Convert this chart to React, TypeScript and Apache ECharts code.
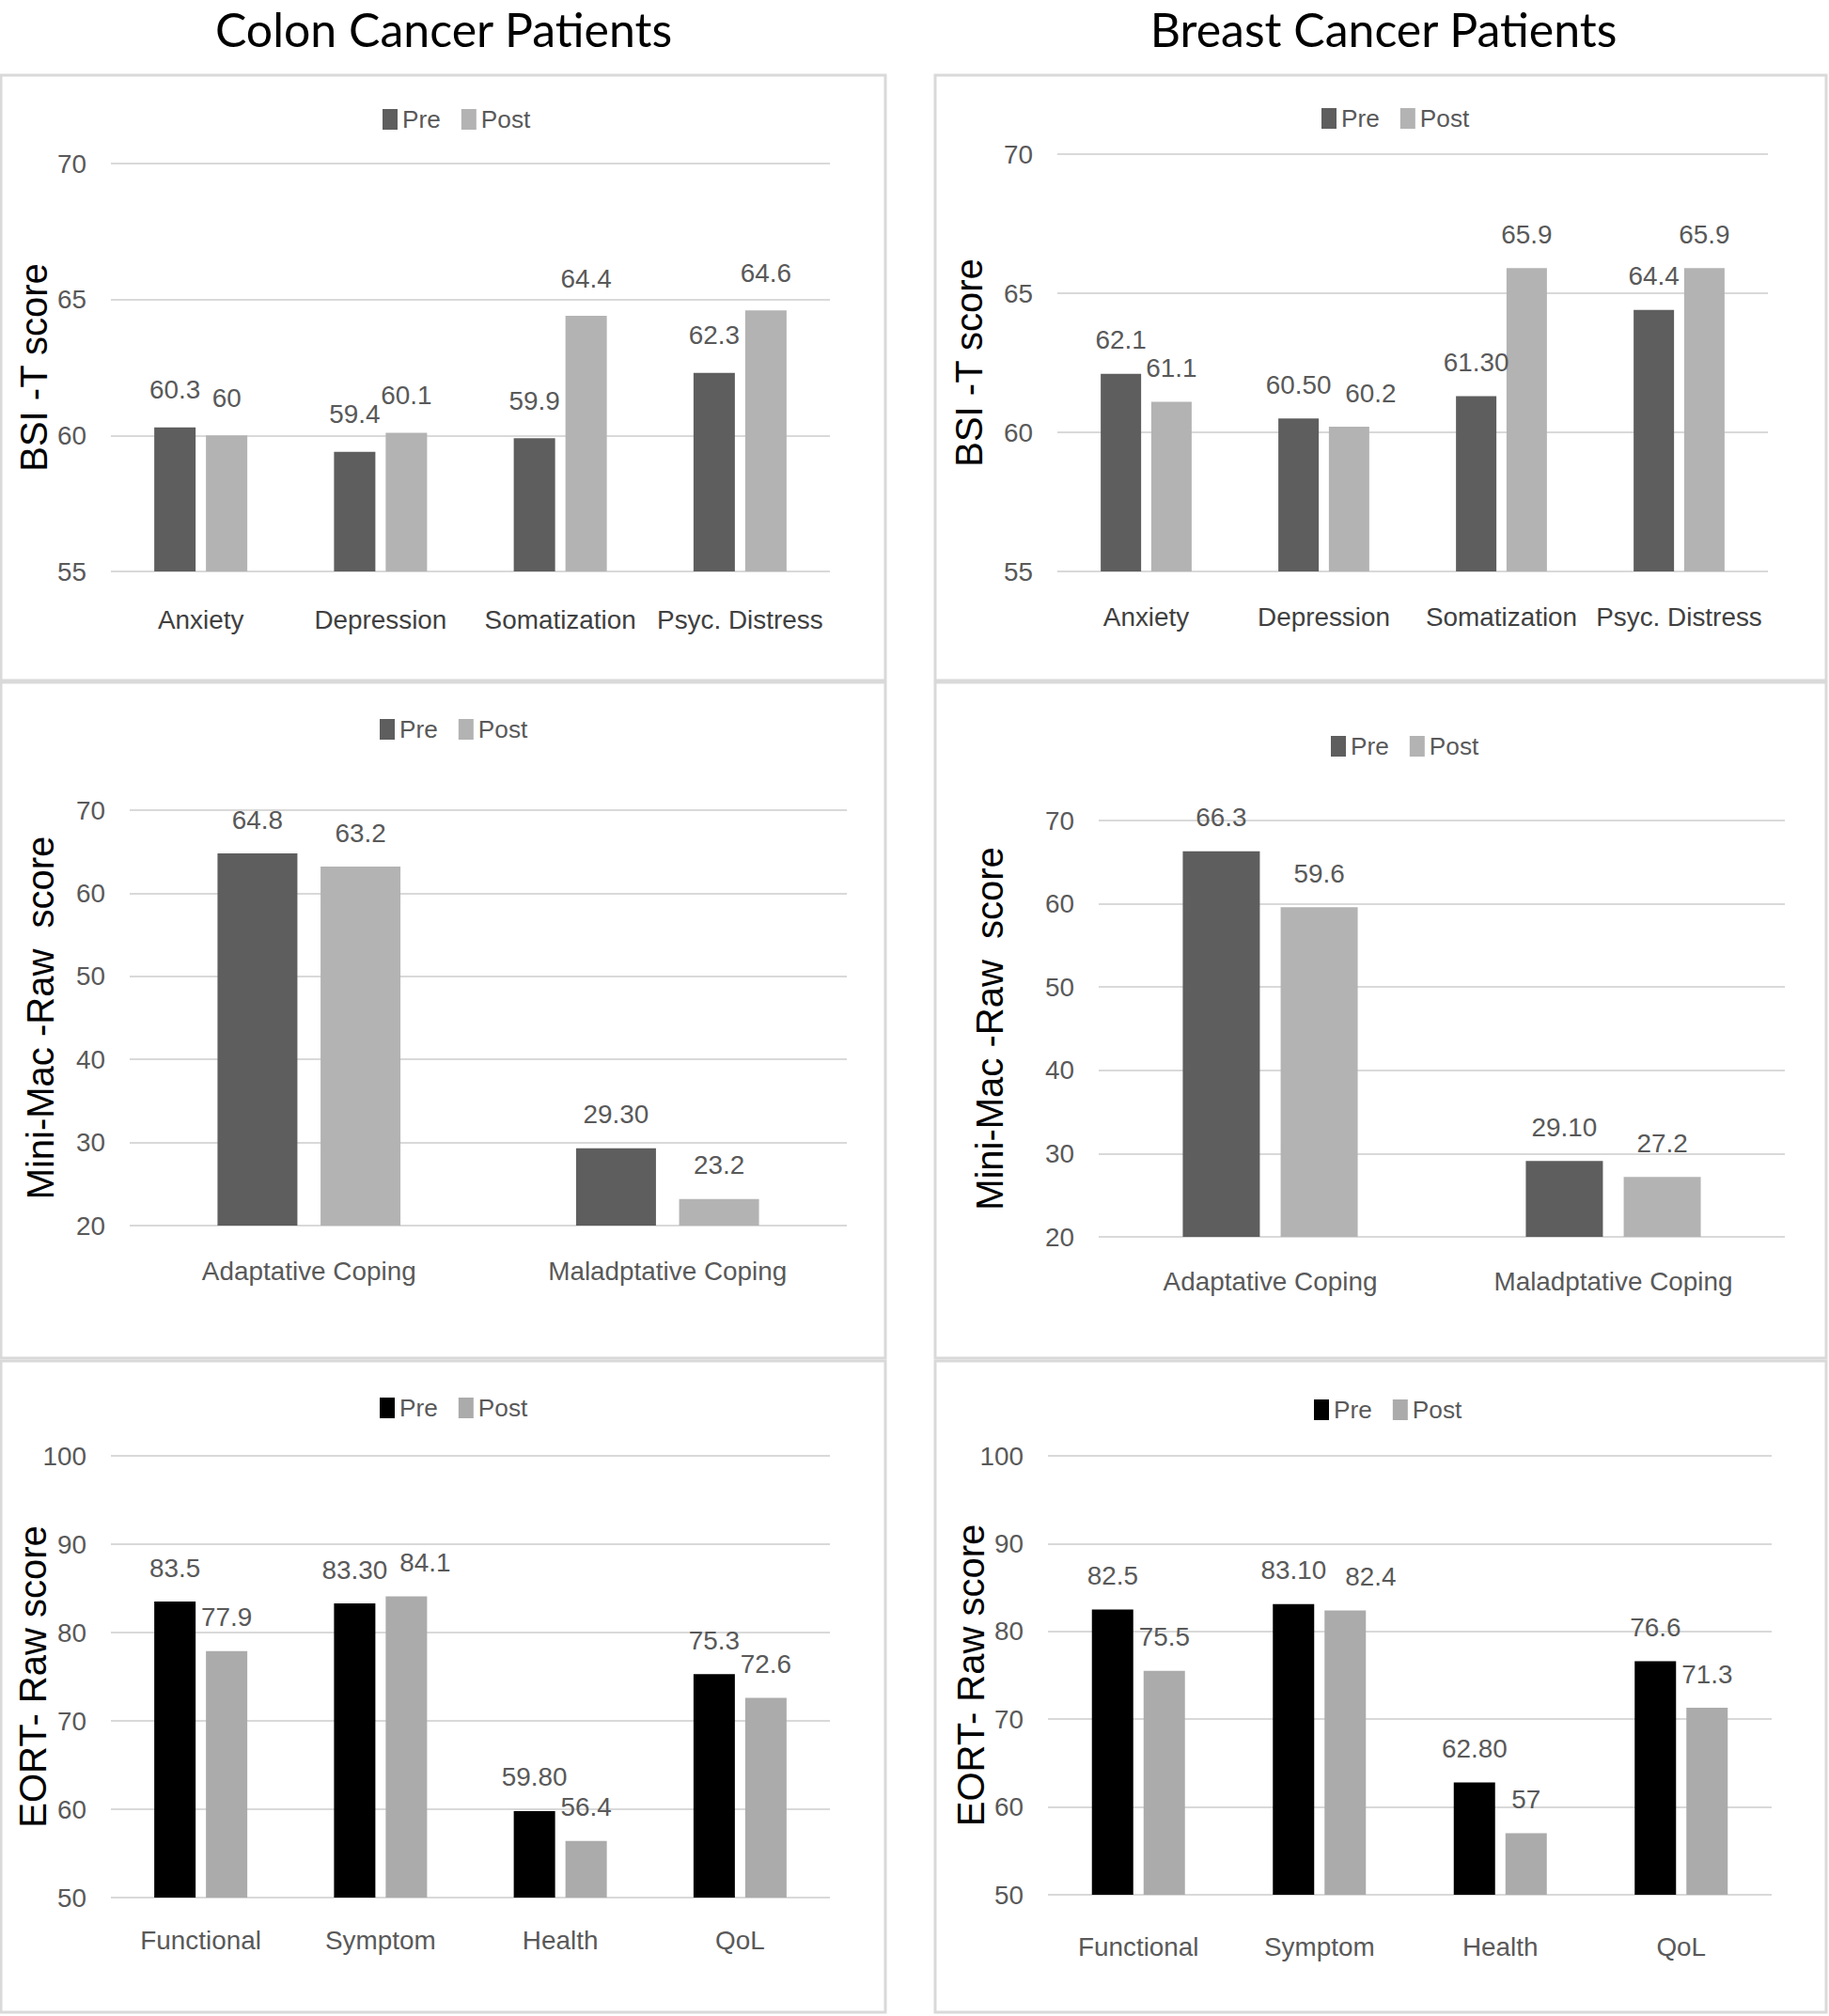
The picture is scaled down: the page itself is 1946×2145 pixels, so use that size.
import React, { useEffect, useRef } from 'react';
import * as echarts from 'echarts';

// ---------------- DATA ----------------
const bsiCategories = ['Anxiety', 'Depression', 'Somatization', 'Psyc. Distress'];
const colonBsiPre = [60.3, 59.4, 59.9, 62.3];
const colonBsiPost = [60, 60.1, 64.4, 64.6];
const colonBsiPreLabels = ['60.3', '59.4', '59.9', '62.3'];
const colonBsiPostLabels = ['60', '60.1', '64.4', '64.6'];
const breastBsiPre = [62.1, 60.5, 61.3, 64.4];
const breastBsiPost = [61.1, 60.2, 65.9, 65.9];
const breastBsiPreLabels = ['62.1', '60.50', '61.30', '64.4'];
const breastBsiPostLabels = ['61.1', '60.2', '65.9', '65.9'];

const copingCategories = ['Adaptative Coping', 'Maladptative Coping'];
const colonMacPre = [64.8, 29.3];
const colonMacPost = [63.2, 23.2];
const colonMacPreLabels = ['64.8', '29.30'];
const colonMacPostLabels = ['63.2', '23.2'];
const breastMacPre = [66.3, 29.1];
const breastMacPost = [59.6, 27.2];
const breastMacPreLabels = ['66.3', '29.10'];
const breastMacPostLabels = ['59.6', '27.2'];

const qolCategories = ['Functional', 'Symptom', 'Health', 'QoL'];
const colonQolPre = [83.5, 83.3, 59.8, 75.3];
const colonQolPost = [77.9, 84.1, 56.4, 72.6];
const colonQolPreLabels = ['83.5', '83.30', '59.80', '75.3'];
const colonQolPostLabels = ['77.9', '84.1', '56.4', '72.6'];
const breastQolPre = [82.5, 83.1, 62.8, 76.6];
const breastQolPost = [75.5, 82.4, 57, 71.3];
const breastQolPreLabels = ['82.5', '83.10', '62.80', '76.6'];
const breastQolPostLabels = ['75.5', '82.4', '57', '71.3'];

const bsiAxis = { min: 55, max: 70, interval: 5 };
const macAxis = { min: 20, max: 70, interval: 10 };
const qolAxis = { min: 50, max: 100, interval: 10 };

const columnTitles = ['Colon Cancer Patients', 'Breast Cancer Patients'];
const seriesNames = ['Pre', 'Post'];

function hasFont(name: string): boolean {
  try {
    const ctx = document.createElement('canvas').getContext('2d');
    if (!ctx) return false;
    const s = 'abcdefghijklmnopqrstuvwxyz0123456789';
    ctx.font = '40px monospace';
    const a = ctx.measureText(s).width;
    ctx.font = `40px '${name}', monospace`;
    const b = ctx.measureText(s).width;
    return Math.abs(a - b) > 0.5;
  } catch (e) {
    return false;
  }
}

export default function App() {
  const ref = useRef<HTMLDivElement>(null);
  useEffect(() => {
    document.body.style.margin = '0';
    if (!ref.current) return;
    const narrow = hasFont('Liberation Sans Narrow');
    const ff = narrow ? "'Liberation Sans Narrow', 'Liberation Sans', sans-serif" : "'Liberation Sans', sans-serif";
    const k = narrow ? 1 : 0.82;

    // label horizontal shifts (px) for the few labels moved aside in the original
    const panels = [
      {
        grid: { left: 118, top: 174, width: 765, height: 434 }, cats: bsiCategories, axis: bsiAxis,
        pre: colonBsiPre, post: colonBsiPost, preL: colonBsiPreLabels, postL: colonBsiPostLabels,
        name: 'BSI -T score', nameGap: 62, barWidth: 44, barGap: '25%', preColor: '#5e5e5e', postColor: '#b3b3b3',
        legend: { left: 407, cy: 127 }, catColor: '#404040', catMargin: 38, labelDist: 26, postShift: [0, 0, 0, 0],
      },
      {
        grid: { left: 1125, top: 164, width: 756, height: 444 }, cats: bsiCategories, axis: bsiAxis,
        pre: breastBsiPre, post: breastBsiPost, preL: breastBsiPreLabels, postL: breastBsiPostLabels,
        name: 'BSI -T score', nameGap: 74, barWidth: 43, barGap: '25%', preColor: '#5e5e5e', postColor: '#b3b3b3',
        legend: { left: 1406, cy: 126 }, catColor: '#404040', catMargin: 35, labelDist: 22, postShift: [0, 23, 0, 0],
      },
      {
        grid: { left: 138, top: 862, width: 763, height: 442 }, cats: copingCategories, axis: macAxis,
        pre: colonMacPre, post: colonMacPost, preL: colonMacPreLabels, postL: colonMacPostLabels,
        name: 'Mini-Mac -Raw  score', nameGap: 75, barWidth: 85, barGap: '29%', preColor: '#5e5e5e', postColor: '#b3b3b3',
        legend: { left: 404, cy: 776 }, catColor: '#595959', catMargin: 35, labelDist: 22, postShift: [0, 0],
      },
      {
        grid: { left: 1169, top: 873, width: 730, height: 443 }, cats: copingCategories, axis: macAxis,
        pre: breastMacPre, post: breastMacPost, preL: breastMacPreLabels, postL: breastMacPostLabels,
        name: 'Mini-Mac -Raw  score', nameGap: 96, barWidth: 82, barGap: '27%', preColor: '#5e5e5e', postColor: '#b3b3b3',
        legend: { left: 1416, cy: 794 }, catColor: '#595959', catMargin: 34, labelDist: 22, postShift: [0, 0],
      },
      {
        grid: { left: 118, top: 1549, width: 765, height: 470 }, cats: qolCategories, axis: qolAxis,
        pre: colonQolPre, post: colonQolPost, preL: colonQolPreLabels, postL: colonQolPostLabels,
        name: 'EORT- Raw score', nameGap: 63, barWidth: 44, barGap: '25%', preColor: '#000000', postColor: '#ababab',
        legend: { left: 404, cy: 1498 }, catColor: '#595959', catMargin: 32, labelDist: 22, postShift: [0, 20, 0, 0],
      },
      {
        grid: { left: 1115, top: 1549, width: 770, height: 467 }, cats: qolCategories, axis: qolAxis,
        pre: breastQolPre, post: breastQolPost, preL: breastQolPreLabels, postL: breastQolPostLabels,
        name: 'EORT- Raw score', nameGap: 62, barWidth: 44, barGap: '25%', preColor: '#000000', postColor: '#ababab',
        legend: { left: 1398, cy: 1500 }, catColor: '#595959', catMargin: 42, labelDist: 22, postShift: [0, 27, 0, 0],
      },
    ];

    const fsTick = 34 * k;
    const fsLabel = 34 * k;
    const fsLegend = 32 * k;

    const grids: any[] = [];
    const xAxes: any[] = [];
    const yAxes: any[] = [];
    const series: any[] = [];
    const legends: any[] = [];

    panels.forEach((p, i) => {
      grids.push({ ...p.grid, containLabel: false });
      xAxes.push({
        type: 'category', gridIndex: i, data: p.cats,
        axisLine: { show: false }, axisTick: { show: false },
        axisLabel: { color: p.catColor, fontSize: fsLabel, fontFamily: ff, margin: p.catMargin, lineHeight: fsLabel, interval: 0 },
      });
      yAxes.push({
        type: 'value', gridIndex: i, min: p.axis.min, max: p.axis.max, interval: p.axis.interval,
        axisLine: { show: false }, axisTick: { show: false },
        axisLabel: { color: '#595959', fontSize: fsTick, fontFamily: ff, margin: 26 },
        splitLine: { lineStyle: { color: '#d9d9d9', width: 2 } },
        name: p.name, nameLocation: 'middle', nameGap: p.nameGap, nameMoveOverlap: false,
        nameTextStyle: { color: '#000000', fontSize: 40, fontFamily: "'Liberation Sans', Arial, sans-serif", lineHeight: 40 },
      });
      const mk = (nm: string, vals: number[], labels: string[], color: string, shifts: number[] | null) => ({
        type: 'bar', name: nm, xAxisIndex: i, yAxisIndex: i,
        data: vals.map((v, j) => (shifts && shifts[j] ? { value: v, label: { offset: [shifts[j], 0] } } : v)),
        barWidth: p.barWidth, barGap: p.barGap,
        itemStyle: { color },
        emphasis: { disabled: true },
        label: {
          show: true, position: 'top', distance: p.labelDist,
          color: '#595959', fontSize: fsLabel, fontFamily: ff, lineHeight: fsLabel,
          formatter: (prm: any) => labels[prm.dataIndex],
        },
      });
      series.push(mk(seriesNames[0], p.pre, p.preL, p.preColor, null));
      series.push(mk(seriesNames[1], p.post, p.postL, p.postColor, p.postShift));
      legends.push({
        left: p.legend.left, top: p.legend.cy - fsLegend / 2, padding: 0,
        orient: 'horizontal', icon: 'rect', itemWidth: 16, itemHeight: 22, itemGap: 22,
        selectedMode: false,
        textStyle: { color: '#595959', fontSize: fsLegend, fontFamily: ff, lineHeight: fsLegend },
        data: [
          { name: seriesNames[0], itemStyle: { color: p.preColor } },
          { name: seriesNames[1], itemStyle: { color: p.postColor } },
        ],
      });
    });

    const borderStyle = { fill: 'rgba(0,0,0,0)', stroke: '#d9d9d9', lineWidth: 3 };
    const panelBoxes = [
      [1, 80, 941, 644], [1, 726, 941, 719], [1, 1448, 941, 693],
      [995, 80, 948, 644], [995, 726, 948, 719], [995, 1448, 948, 693],
    ];
    const graphics: any[] = panelBoxes.map((b) => ({
      type: 'rect', silent: true, z: -10,
      shape: { x: b[0], y: b[1], width: b[2], height: b[3] },
      style: borderStyle,
    }));
    const titleFont = "50px Lato, 'Open Sans', sans-serif";
    graphics.push({
      type: 'text', x: 472, y: 31, silent: true,
      style: { text: columnTitles[0], fill: '#000', font: titleFont, textAlign: 'center', textVerticalAlign: 'middle' },
    });
    graphics.push({
      type: 'text', x: 1472, y: 31, silent: true,
      style: { text: columnTitles[1], fill: '#000', font: titleFont, textAlign: 'center', textVerticalAlign: 'middle' },
    });

    const chart = echarts.init(ref.current, null, { renderer: 'svg' });
    chart.setOption({
      animation: false,
      backgroundColor: '#ffffff',
      grid: grids,
      xAxis: xAxes,
      yAxis: yAxes,
      legend: legends,
      series,
      graphic: graphics,
    });
    return () => chart.dispose();
  }, []);
  return <div ref={ref} style={{ position: 'absolute', left: 0, top: 0, width: 1946, height: 2145 }} />;
}
